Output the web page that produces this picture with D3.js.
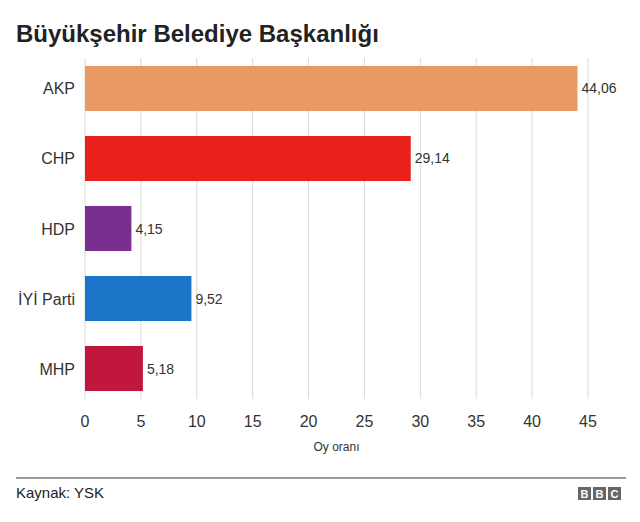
<!DOCTYPE html><html><head><meta charset="utf-8">
<script src="https://cdn.jsdelivr.net/npm/d3@7/dist/d3.min.js"></script>
<style>body{margin:0;background:#fff;font-family:"Liberation Sans",Arial,sans-serif}</style></head><body>
<svg id="c" width="640" height="522"></svg>
<script>
const categories=["AKP","CHP","HDP","İYİ Parti","MHP"];
const values=[44.06,29.14,4.15,9.52,5.18];
const labels=["44,06","29,14","4,15","9,52","5,18"];
const colors=["#e99a63","#e8221b","#7a2f8f","#1b75c9","#c1173f"];
const ticks=[0,5,10,15,20,25,30,35,40,45];
const svg=d3.select("#c");
const x=d3.scaleLinear().domain([0,45]).range([85,588]);
const y=d3.scaleBand().domain(categories).range([58,399]).paddingInner(0.357).paddingOuter(0.114);
svg.append("text").attr("x",16).attr("y",42).attr("font-size",24).attr("font-weight","bold").attr("fill","#222").text("Büyükşehir Belediye Başkanlığı");
svg.append("g").selectAll("line").data(ticks).join("line").attr("x1",d=>x(d)).attr("x2",d=>x(d)).attr("y1",58).attr("y2",399).attr("stroke","#d9d9d9");
svg.append("g").selectAll("rect").data(values).join("rect").attr("x",x(0)).attr("y",(d,i)=>y(categories[i])).attr("width",d=>x(d)-x(0)).attr("height",y.bandwidth()).attr("fill",(d,i)=>colors[i]);
svg.append("g").selectAll("text").data(values).join("text").attr("x",d=>x(d)+4).attr("y",(d,i)=>y(categories[i])+y.bandwidth()/2+5).attr("font-size",14).attr("fill","#333").text((d,i)=>labels[i]);
svg.append("g").selectAll("text").data(categories).join("text").attr("x",75).attr("y",d=>y(d)+y.bandwidth()/2+6).attr("text-anchor","end").attr("font-size",16).attr("fill","#333").text(d=>d);
svg.append("g").selectAll("text").data(ticks).join("text").attr("x",d=>x(d)).attr("y",427).attr("text-anchor","middle").attr("font-size",16).attr("fill","#333").text(d=>d);
svg.append("text").attr("x",x(22.5)).attr("y",451).attr("text-anchor","middle").attr("font-size",12).attr("fill","#333").text("Oy oranı");
svg.append("line").attr("x1",16).attr("x2",626).attr("y1",478).attr("y2",478).attr("stroke","#333").attr("stroke-width",1);
svg.append("text").attr("x",16).attr("y",498).attr("font-size",15).attr("fill","#222").text("Kaynak: YSK");
["B","B","C"].forEach((l,i)=>{const bx=578+i*15;
svg.append("rect").attr("x",bx).attr("y",487).attr("width",13).attr("height",13).attr("fill","#666");
svg.append("text").attr("x",bx+6.5).attr("y",498).attr("text-anchor","middle").attr("font-size",11).attr("font-weight","bold").attr("fill","#fff").text(l);});
</script></body></html>
